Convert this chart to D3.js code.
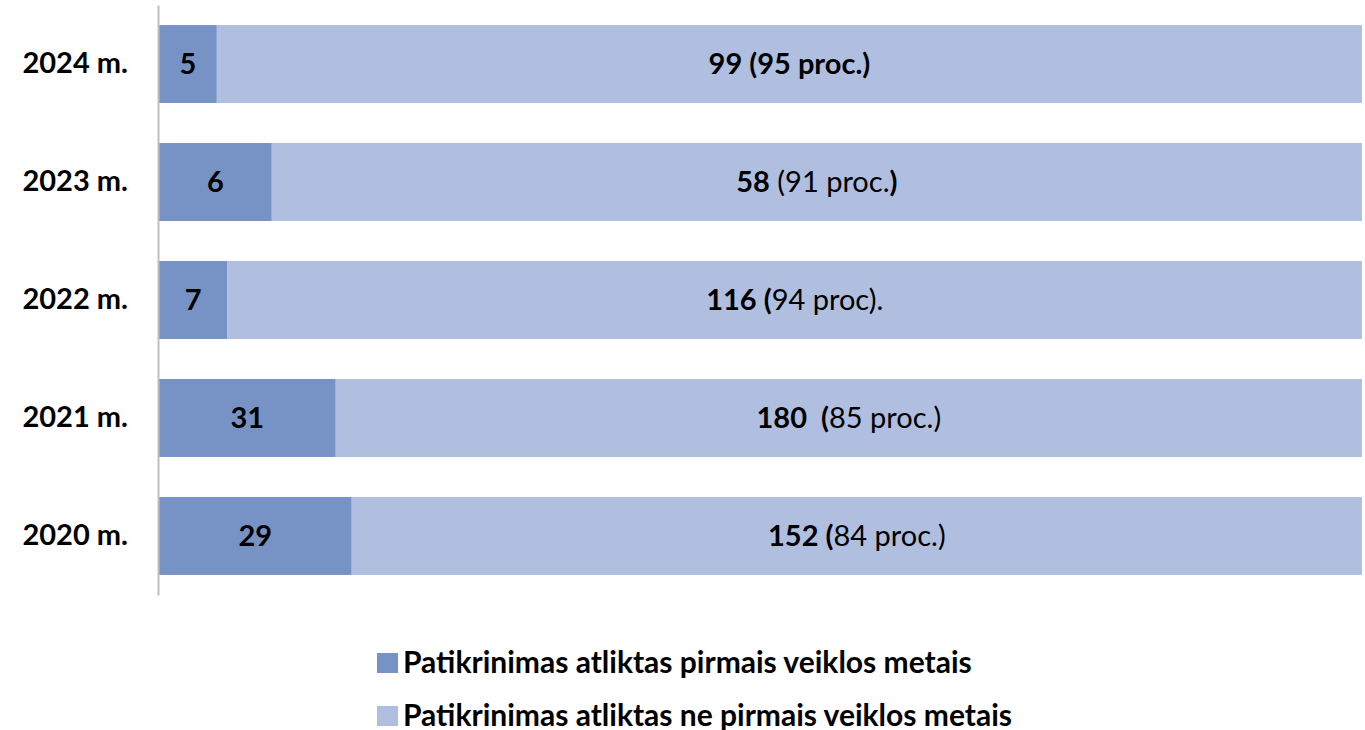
<!DOCTYPE html>
<html>
<head>
<meta charset="utf-8">
<script src="https://cdn.jsdelivr.net/npm/d3@7"></script>
<style>
  body { margin: 0; background: #fff; }
  svg text { font-family: Lato, "Open Sans", sans-serif; white-space: pre; }
</style>
</head>
<body>
<svg id="chart" width="1365" height="730"></svg>
<script>
// data
let years = ['2024 m.', '2023 m.', '2022 m.', '2021 m.', '2020 m.'];
let firstYear = [5, 6, 7, 31, 29];        // pirmais veiklos metais
let notFirstYear = [99, 58, 116, 180, 152]; // ne pirmais veiklos metais
// label parts for the light segment: [text, bold?]
let notFirstLabels = [
  [['99 (95 proc.)', true]],
  [['58', true], [' (91 proc.', false], [')', true]],
  [['116 (', true], ['94 proc).', false]],
  [['180  (', true], ['85 proc.)', false]],
  [['152 (', true], ['84 proc.)', false]]
];
let seriesNames = ['Patikrinimas atliktas pirmais veiklos metais', 'Patikrinimas atliktas ne pirmais veiklos metais'];
let colors = ['#7793c5', '#b0bfe0'];

let svg = d3.select('#chart');

let x = d3.scaleLinear().domain([0, 1]).range([159, 1362]);
let y = d3.scaleBand().domain(years).range([5, 595]).paddingInner(0.339).paddingOuter(0.17);

//stack as 100%
let rows = years.map((yr, i) => {
  let total = firstYear[i] + notFirstYear[i];
  return {yr: yr, i: i, a: firstYear[i] / total, b: notFirstYear[i] / total};
});

let g = svg.append('g');

//dark segments
g.selectAll('.segA').data(rows).join('rect')
  .attr('x', d => x(0))
  .attr('y', d => y(d.yr))
  .attr('width', d => x(d.a) - x(0))
  .attr('height', y.bandwidth())
  .attr('fill', colors[0]);

//light segments
g.selectAll('.segB').data(rows).join('rect')
  .attr('x', d => x(d.a))
  .attr('y', d => y(d.yr))
  .attr('width', d => x(d.a + d.b) - x(d.a))
  .attr('height', y.bandwidth())
  .attr('fill', colors[1]);

//labels in dark segments
g.selectAll('.labA').data(rows).join('text')
  .attr('x', d => (x(0) + x(d.a)) / 2)
  .attr('y', d => y(d.yr) + y.bandwidth() / 2)
  .attr('dy', '0.36em')
  .attr('text-anchor', 'middle')
  .attr('font-size', 29)
  .attr('font-weight', 'bold')
  .text(d => firstYear[d.i]);

//labels in light segments
let labB = g.selectAll('.labB').data(rows).join('text')
  .attr('x', d => (x(d.a) + x(d.a + d.b)) / 2)
  .attr('y', d => y(d.yr) + y.bandwidth() / 2)
  .attr('dy', '0.36em')
  .attr('text-anchor', 'middle')
  .attr('font-size', 29);
labB.each(function(d) {
  let t = d3.select(this);
  notFirstLabels[d.i].forEach(p => {
    t.append('tspan').attr('font-weight', p[1] ? 'bold' : 'normal').text(p[0]);
  });
});

//y axis
let yAxis = svg.append('g')
  .attr('transform', 'translate(158,0)')
  .call(d3.axisLeft(y).tickSize(0).tickPadding(30));
yAxis.select('.domain').attr('stroke', '#c0c0c0').attr('stroke-width', 2);
yAxis.selectAll('text')
  .attr('font-size', 29)
  .attr('font-weight', 'bold')
  .attr('fill', '#000')
  .style('font-family', 'Lato, sans-serif');

//legend
let legend = svg.append('g');
seriesNames.forEach((name, i) => {
  let ly = 663 + i * 53;
  legend.append('rect')
    .attr('x', 377).attr('y', ly - 10)
    .attr('width', 21).attr('height', 20)
    .attr('fill', colors[i]);
  legend.append('text')
    .attr('x', 403).attr('y', ly)
    .attr('dy', '0.34em')
    .attr('font-size', 30)
    .attr('font-weight', 'bold')
    .text(name);
});
</script>
</body>
</html>
